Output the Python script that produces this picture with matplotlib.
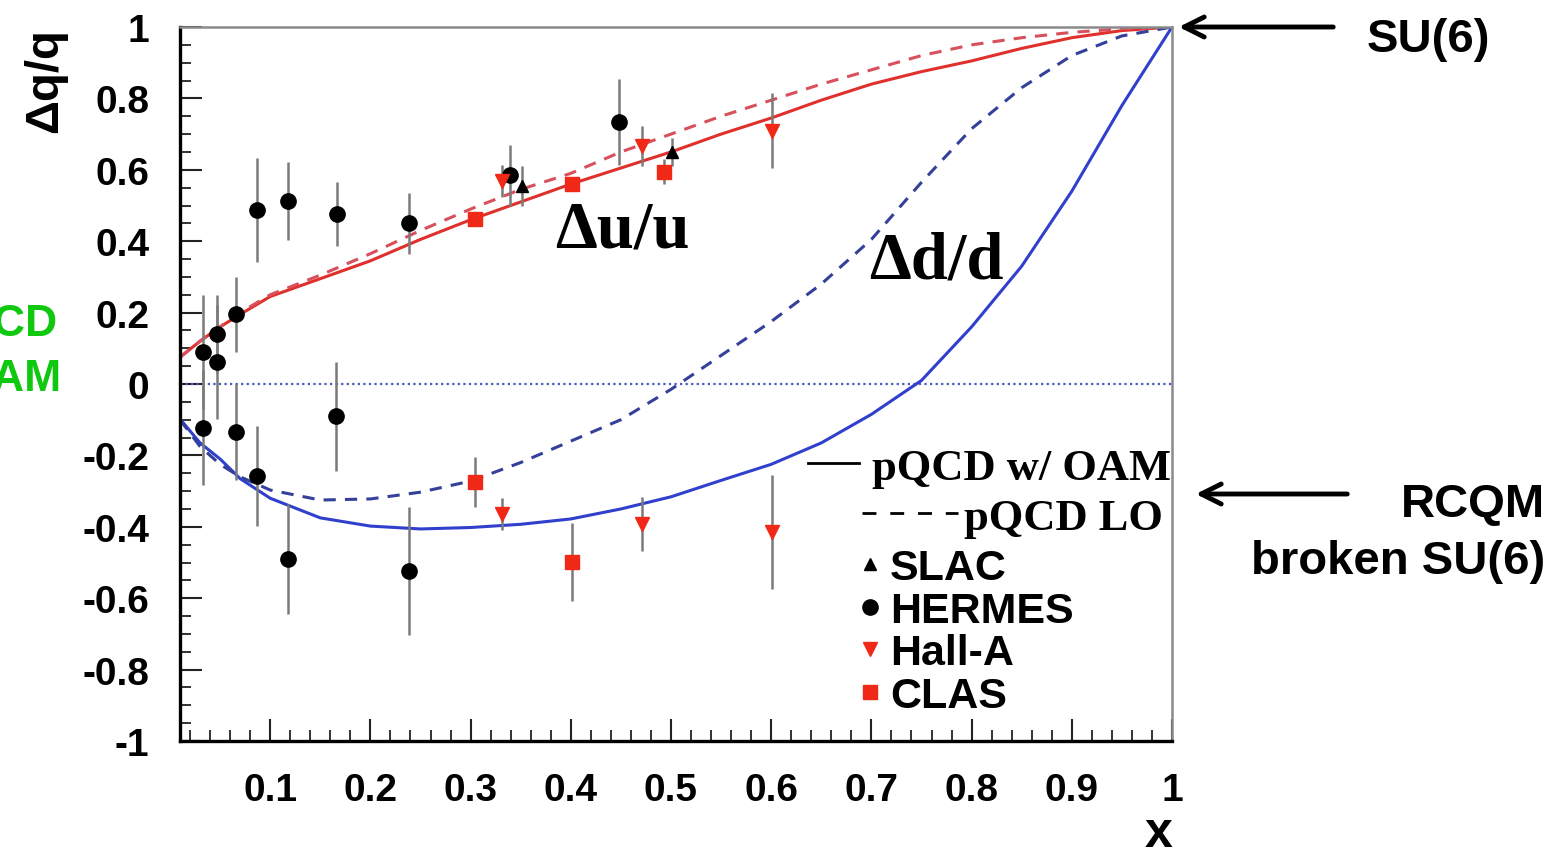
import matplotlib
matplotlib.use('Agg')
import matplotlib.pyplot as plt
from matplotlib.lines import Line2D
from matplotlib.ticker import MultipleLocator, FuncFormatter

# model curves
x_curve = [0.01, 0.03, 0.05, 0.07, 0.1, 0.15, 0.2, 0.25, 0.3, 0.35, 0.4, 0.45,
           0.5, 0.55, 0.6, 0.65, 0.7, 0.75, 0.8, 0.85, 0.9, 0.95, 1.0]
u_oam = [0.075, 0.12, 0.16, 0.195, 0.245, 0.295, 0.345, 0.405, 0.46, 0.51, 0.56, 0.605,
         0.65, 0.70, 0.745, 0.795, 0.84, 0.875, 0.905, 0.94, 0.97, 0.99, 1.0]
u_lo = [0.075, 0.12, 0.16, 0.20, 0.25, 0.305, 0.365, 0.43, 0.49, 0.545, 0.59, 0.65,
        0.70, 0.75, 0.795, 0.84, 0.88, 0.92, 0.95, 0.97, 0.985, 0.995, 1.0]
d_oam = [-0.098, -0.165, -0.21, -0.265, -0.32, -0.375, -0.398, -0.406, -0.402, -0.393,
         -0.378, -0.35, -0.316, -0.27, -0.225, -0.165, -0.085, 0.01, 0.16, 0.33, 0.54,
         0.78, 1.0]
d_lo = [-0.10, -0.175, -0.225, -0.26, -0.297, -0.325, -0.322, -0.303, -0.272, -0.22,
        -0.16, -0.10, -0.015, 0.08, 0.175, 0.28, 0.405, 0.565, 0.715, 0.83, 0.92,
        0.975, 1.0]

# data points: x, value, error
hermes_x = [0.033, 0.047, 0.066, 0.087, 0.118, 0.167, 0.239, 0.339, 0.448,
            0.033, 0.047, 0.066, 0.087, 0.118, 0.166, 0.239]
hermes_y = [0.09, 0.14, 0.195, 0.487, 0.512, 0.476, 0.45, 0.585, 0.733,
            -0.122, 0.062, -0.134, -0.257, -0.49, -0.09, -0.524]
hermes_e = [0.16, 0.11, 0.105, 0.145, 0.11, 0.09, 0.085, 0.085, 0.12,
            0.16, 0.16, 0.135, 0.14, 0.155, 0.153, 0.18]
slac_x = [0.351, 0.501]
slac_y = [0.555, 0.65]
slac_e = [0.055, 0.04]
halla_x = [0.331, 0.471, 0.601, 0.331, 0.471, 0.601]
halla_y = [0.568, 0.667, 0.709, -0.364, -0.392, -0.415]
halla_e = [0.045, 0.055, 0.105, 0.045, 0.075, 0.16]
clas_x = [0.304, 0.401, 0.493, 0.304, 0.401]
clas_y = [0.462, 0.56, 0.594, -0.275, -0.499]
clas_e = [0.02, 0.02, 0.035, 0.07, 0.11]

SANS = 'Liberation Sans'
SERIF = 'Liberation Serif'
RED = '#e0302c'
RED_D = '#d8505c'
BLUE = '#3040cc'
BLUE_D = '#34409a'
PRED = '#f02818'

fig = plt.figure(figsize=(15.53, 8.54), dpi=100)
ax = fig.add_axes([180 / 1553, 1 - 742 / 854, 992 / 1553, 714 / 854])

ax.axhline(0, color='#4a58c0', ls=(0, (1, 1.5)), lw=1.6)
ax.plot(x_curve, u_oam, color=RED, lw=2.2)
ax.plot(x_curve, u_lo, color=RED_D, lw=2.2, ls=(0, (4, 3)))
ax.plot(x_curve, d_oam, color=BLUE, lw=2.2)
ax.plot(x_curve, d_lo, color=BLUE_D, lw=2.2, ls=(0, (4, 3)))

ekw = dict(ecolor='#7a7a7a', elinewidth=1.8, capsize=0, ls='none')
ax.errorbar(hermes_x, hermes_y, yerr=hermes_e, fmt='o', color='black', ms=11, **ekw)
ax.errorbar(slac_x, slac_y, yerr=slac_e, fmt='^', color='black', ms=9, **ekw)
ax.errorbar(halla_x, halla_y, yerr=halla_e, fmt='v', color=PRED, ms=10, **ekw)
ax.errorbar(clas_x, clas_y, yerr=clas_e, fmt='s', color=PRED, ms=10, **ekw)

ax.set_xlim(0.01, 1.0)
ax.set_ylim(-1, 1)
ax.xaxis.set_major_locator(MultipleLocator(0.1))
ax.xaxis.set_minor_locator(MultipleLocator(0.02))
ax.yaxis.set_major_locator(MultipleLocator(0.2))
ax.yaxis.set_minor_locator(MultipleLocator(0.05))
fmt = FuncFormatter(lambda v, p: '%g' % round(v, 2))
ax.xaxis.set_major_formatter(fmt)
ax.yaxis.set_major_formatter(fmt)
ax.tick_params(which='both', direction='in', top=False, right=False, color='#222222')
ax.tick_params(which='major', length=16, width=1.5, pad=22)
ax.tick_params(which='minor', length=8, width=1.3)
for lab in ax.get_xticklabels() + ax.get_yticklabels():
    lab.set_fontfamily(SANS)
    lab.set_fontweight('bold')
    lab.set_fontsize(28)

for s in ['left', 'bottom']:
    ax.spines[s].set_linewidth(2.4)
    ax.spines[s].set_color('black')
for s in ['top', 'right']:
    ax.spines[s].set_linewidth(1.8)
    ax.spines[s].set_color('#8a8a8a')

ax.set_ylabel('Δq/q', loc='top', fontfamily=SANS, fontweight='bold', fontsize=34)
ax.yaxis.set_label_coords(-0.114, 1.0)
ax.set_xlabel('x', loc='right', fontfamily=SANS, fontweight='bold', fontsize=36)
ax.xaxis.set_label_coords(1.0, -0.096)

ax.text(0.451, 0.43, 'Δu/u', fontfamily=SERIF, fontweight='bold', fontsize=48,
        ha='center', va='center')
ax.text(0.765, 0.345, 'Δd/d', fontfamily=SERIF, fontweight='bold', fontsize=48,
        ha='center', va='center')

# legends
serif_prop = dict(family=SERIF, weight='bold', size=32)
leg1 = ax.legend([Line2D([], [], color='black', lw=2)], ['pQCD w/ OAM'],
                 loc='upper left', bbox_to_anchor=(0.633, 0.411), frameon=False,
                 prop=serif_prop, handlelength=1.15, handletextpad=0.3,
                 borderpad=0, borderaxespad=0)
ax.add_artist(leg1)
leg2 = ax.legend([Line2D([], [], color='black', lw=2, ls=(0, (5, 5)))], ['pQCD LO'],
                 loc='upper left', bbox_to_anchor=(0.6875, 0.341), frameon=False,
                 prop=serif_prop, handlelength=2.15, handletextpad=0.15,
                 borderpad=0, borderaxespad=0)
ax.add_artist(leg2)
mk_handles = [Line2D([], [], ls='none', marker='^', color='black', ms=9),
              Line2D([], [], ls='none', marker='o', color='black', ms=11),
              Line2D([], [], ls='none', marker='v', color=PRED, ms=10),
              Line2D([], [], ls='none', marker='s', color=PRED, ms=10)]
ax.legend(mk_handles, ['SLAC', 'HERMES', 'Hall-A', 'CLAS'],
          loc='upper left', bbox_to_anchor=(0.6825, 0.270), frameon=False,
          prop=dict(family=SANS, weight='bold', size=31), handlelength=0.6,
          handletextpad=0.16, labelspacing=0.06, borderpad=0, borderaxespad=0)

# annotations outside the frame (the green lines are cut by the left edge, as in the original)
GREEN = '#10c810'
fig.text(57 / 1553, 1 - 325 / 854, 'pQCD', ha='right', va='center', color=GREEN,
         fontfamily=SANS, fontweight='bold', fontsize=32)
fig.text(61 / 1553, 1 - 380 / 854, 'w/ OAM', ha='right', va='center', color=GREEN,
         fontfamily=SANS, fontweight='bold', fontsize=32)
fig.text(1428 / 1553, 1 - 40 / 854, 'SU(6)', ha='center', va='center',
         fontfamily=SANS, fontweight='bold', fontsize=34)
fig.text(1545 / 1553, 1 - 505 / 854, 'RCQM', ha='right', va='center',
         fontfamily=SANS, fontweight='bold', fontsize=34)
fig.text(1545 / 1553, 1 - 562 / 854, 'broken SU(6)', ha='right', va='center',
         fontfamily=SANS, fontweight='bold', fontsize=34)
akw = dict(arrowstyle='->', lw=3.5, color='black', mutation_scale=36)
ax.annotate('', xy=(1176 / 1553, 1 - 28 / 854), xytext=(1336 / 1553, 1 - 28 / 854),
            xycoords='figure fraction', textcoords='figure fraction', arrowprops=akw)
ax.annotate('', xy=(1193 / 1553, 1 - 495 / 854), xytext=(1350 / 1553, 1 - 495 / 854),
            xycoords='figure fraction', textcoords='figure fraction', arrowprops=akw)

fig.savefig('out.png', dpi=100, facecolor='white')
